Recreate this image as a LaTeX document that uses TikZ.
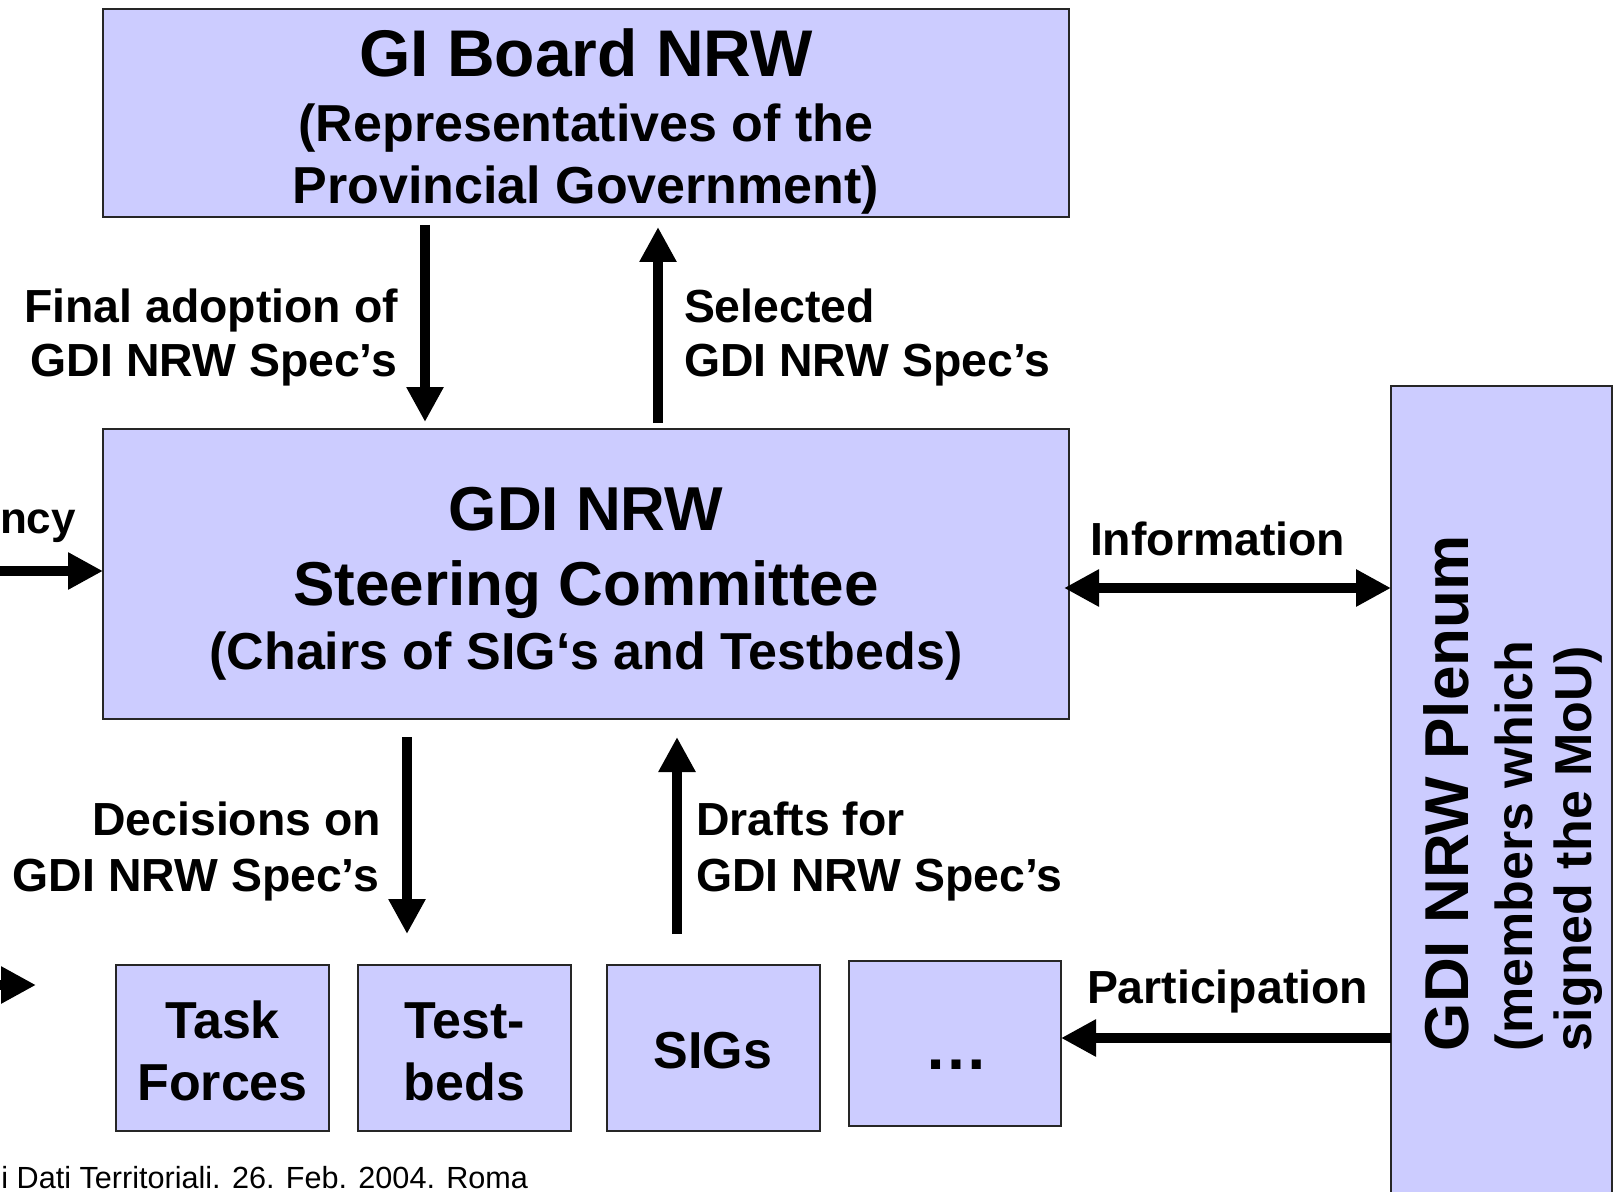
\documentclass[tikz,border=0pt]{standalone}
\usepackage{fontspec}
\setmainfont{Liberation Sans}
\usetikzlibrary{arrows.meta,calc}
\definecolor{boxfill}{HTML}{CCCCFF}
\begin{document}
\begin{tikzpicture}[x=0.5pt,y=-0.5pt,
  box/.style={draw=black!85, line width=1pt, fill=boxfill, inner sep=0pt, outer sep=0pt},
  txt/.style={inner sep=0pt, outer sep=0pt, anchor=base, font=\bfseries\fontsize{26}{31}\selectfont},
  bigtxt/.style={txt, font=\bfseries\fontsize{31}{37}\selectfont},
  titletxt/.style={txt, font=\bfseries\fontsize{33}{39}\selectfont},
  lblR/.style={inner sep=0pt, outer sep=0pt, anchor=base east, font=\bfseries\fontsize{23.2}{28}\selectfont},
  lblL/.style={inner sep=0pt, outer sep=0pt, anchor=base west, font=\bfseries\fontsize{23.2}{28}\selectfont},
  vtxt/.style={inner sep=0pt, outer sep=0pt, anchor=base west, rotate=90, font=\bfseries\fontsize{26}{31}\selectfont},
  tipA/.tip={Triangle[length=17.5pt,width=17.5pt]},
  arr/.style={line width=5.25pt, -tipA},
  darr/.style={line width=5.25pt, tipA-tipA}
]
\useasboundingbox (0,0) rectangle (1615,1192);
\clip (0,0) rectangle (1615,1192);

% boxes
\node[box, minimum width=483pt, minimum height=104pt] (board) at (586,113) {};
\node[box, minimum width=483pt, minimum height=145pt] (steer) at (586,574) {};
\node[box, minimum width=110.5pt, minimum height=432pt] (plenum) at (1501.5,818) {};
\node[box, minimum width=106.5pt, minimum height=83pt] (tf) at (222.5,1048) {};
\node[box, minimum width=106.5pt, minimum height=83pt] (tb) at (464.5,1048) {};
\node[box, minimum width=106.5pt, minimum height=83pt] (sigs) at (713,1048) {};
\node[box, minimum width=106pt, minimum height=82.5pt] (dots) at (955,1043.5) {};

% box texts
\node[titletxt] (board1) at (586,77) {GI Board NRW};
\node[txt] (board2) at (586,142) {(Representatives of the};
\node[txt] (board3) at (586,204) {Provincial Government)};

\node[bigtxt] (steer1) at (586,530) {GDI NRW};
\node[bigtxt] (steer2) at (586,605) {Steering Committee};
\node[txt] (steer3) at (586,669) {(Chairs of SIG‘s and Testbeds)};

\node[txt] (tf1) at (222.5,1038) {Task};
\node[txt] (tf2) at (222.5,1100) {Forces};
\node[txt] (tb1) at (464.5,1038) {Test-};
\node[txt] (tb2) at (464.5,1100) {beds};
\node[txt] (sigs1) at (713,1068) {SIGs};
\node[txt, anchor=center, font=\bfseries\fontsize{32}{38}\selectfont] (dots1) at (956,1065) {…};

\node[vtxt, font=\bfseries\fontsize{31}{37}\selectfont] (plen1) at (1468,1051) {GDI NRW Plenum};
\node[vtxt] (plen2) at (1532,1051) {(members which};
\node[vtxt] (plen3) at (1591,1051) {signed the MoU)};

% connector labels
\node[lblR] (fa1) at (398,322) {Final adoption of};
\node[lblR] (fa2) at (397,377) {GDI NRW Spec’s};
\node[lblL] (se1) at (684,322) {Selected};
\node[lblL] (se2) at (684,377) {GDI NRW Spec’s};
\node[lblR] (de1) at (381,835) {Decisions on};
\node[lblR] (de2) at (379,891) {GDI NRW Spec’s};
\node[lblL] (dr1) at (696,835) {Drafts for};
\node[lblL] (dr2) at (696,891) {GDI NRW Spec’s};
\node[lblL] (info) at (1090,555) {Information};
\node[lblL] (part) at (1087,1003) {Participation};
\node[inner sep=0pt, outer sep=0pt, anchor=base west, font=\bfseries\fontsize{22}{27}\selectfont] (ncy) at (0,533) {ncy};

% footer
\node[inner sep=0pt, anchor=base west, font=\fontsize{15.3}{18}\selectfont] (foot) at (1,1188) {i Dati Territoriali. 26. Feb. 2004. Roma};

% connectors
\draw[arr] ($(board.south)+(-161,8)$) -- ($(steer.north)+(-161,-7)$);
\draw[arr] ($(steer.north)+(72,-6)$) -- ($(board.south)+(72,10)$);
\draw[darr] ($(steer.east)+(-5,14)$) -- ($(plenum.west |- steer.east)+(0,14)$);
\draw[arr] ($(steer.south)+(-179,18)$) -- ($(tb.north)+(-57.5,-31)$);
\draw[arr] ($(sigs.north)+(-36,-31)$) -- ($(steer.south)+(91,18)$);
\draw[arr] ($(plenum.west |- dots.east)+(0,-5.5)$) -- ($(dots.east)+(0,-5.5)$);

\coordinate (inL) at (-100,571);
\draw[arr] (inL) -- (inL -| steer.west);
\coordinate (inB) at (-100,985);
\coordinate (inBtip) at (36,985);
\draw[arr] (inB) -- (inBtip);
\end{tikzpicture}
\end{document}
